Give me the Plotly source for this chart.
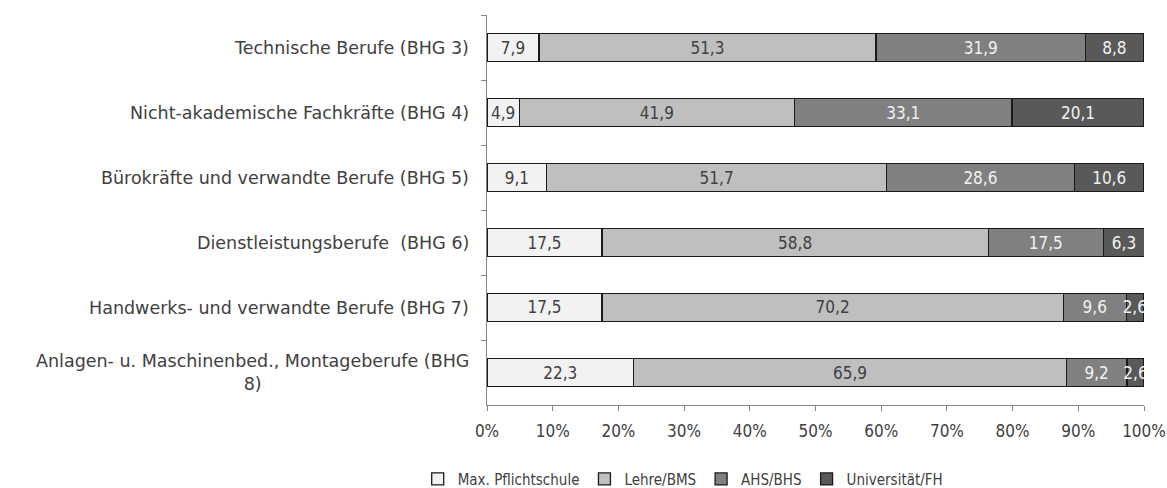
import plotly.graph_objects as go

categories = [
    "Technische Berufe (BHG 3)",
    "Nicht-akademische Fachkräfte (BHG 4)",
    "Bürokräfte und verwandte Berufe (BHG 5)",
    "Dienstleistungsberufe  (BHG 6)",
    "Handwerks- und verwandte Berufe (BHG 7)",
    "Anlagen- u. Maschinenbed., Montageberufe (BHG<br>8)",
]

pflichtschule = [7.9, 4.9, 9.1, 17.5, 17.5, 22.3]
lehre = [51.3, 41.9, 51.7, 58.8, 70.2, 65.9]
ahs_bhs = [31.9, 33.1, 28.6, 17.5, 9.6, 9.2]
uni_fh = [8.8, 20.1, 10.6, 6.3, 2.6, 2.6]

series_names = ["Max. Pflichtschule", "Lehre/BMS", "AHS/BHS", "Universität/FH"]
x_ticks = list(range(0, 101, 10))

fills = ["#f2f2f2", "#bfbfbf", "#808080", "#595959"]
text_colors = ["#404040", "#404040", "#f2f2f2", "#f2f2f2"]

LABEL_FONT = "Century Gothic, DejaVu Sans, sans-serif"
NARROW_FONT = "Liberation Sans Narrow, DejaVu Sans Condensed, Arial Narrow, sans-serif"

fig = go.Figure()

for name, vals, fill, tc in zip(series_names, [pflichtschule, lehre, ahs_bhs, uni_fh], fills, text_colors):
    fig.add_trace(
        go.Bar(
            y=categories,
            x=vals,
            name=name,
            orientation="h",
            marker=dict(color=fill, line=dict(color="#1a1a1a", width=1.3)),
            text=[f"{v:.1f}".replace(".", ",") for v in vals],
            textposition="inside",
            insidetextanchor="middle",
            textangle=0,
            constraintext="none",
            textfont=dict(family=NARROW_FONT, size=17, color=tc),
        )
    )

# category labels as annotations so the wrapped one is centred
for cat in categories:
    fig.add_annotation(
        x=0,
        xref="paper",
        y=cat,
        yref="y",
        text=cat,
        showarrow=False,
        xanchor="right",
        xshift=-16,
        align="center",
        font=dict(family=LABEL_FONT, size=17.5, color="#404040"),
    )

fig.update_layout(
    width=1167,
    height=488,
    margin=dict(l=487, r=23, t=15, b=83, autoexpand=False),
    barmode="stack",
    bargap=0.57,
    plot_bgcolor="white",
    paper_bgcolor="white",
    showlegend=True,
    legend=dict(
        orientation="h",
        traceorder="normal",
        x=0.585,
        xref="container",
        xanchor="center",
        y=0.018,
        yref="container",
        yanchor="middle",
        font=dict(family=NARROW_FONT, size=15, color="#404040"),
        itemwidth=30,
    ),
)

fig.update_xaxes(
    range=[0, 100],
    tickvals=x_ticks,
    ticktext=[f"{t}%" for t in x_ticks],
    automargin=False,
    showgrid=False,
    zeroline=False,
    showline=True,
    linecolor="#868686",
    linewidth=1,
    ticks="outside",
    ticklen=5,
    tickcolor="#868686",
    tickfont=dict(family=NARROW_FONT, size=17, color="#404040"),
    ticklabelstandoff=6,
)

fig.update_yaxes(
    autorange="reversed",
    automargin=False,
    showticklabels=False,
    showgrid=False,
    showline=True,
    linecolor="#868686",
    linewidth=1,
    ticks="outside",
    ticklen=5,
    tickcolor="#868686",
    tickson="boundaries",
)

# drop the default page margin so the figure sits at the window's corner
fig.write_html(
    "out.html",
    config={"displayModeBar": False},
    post_script="document.body.style.margin='0';",
)
